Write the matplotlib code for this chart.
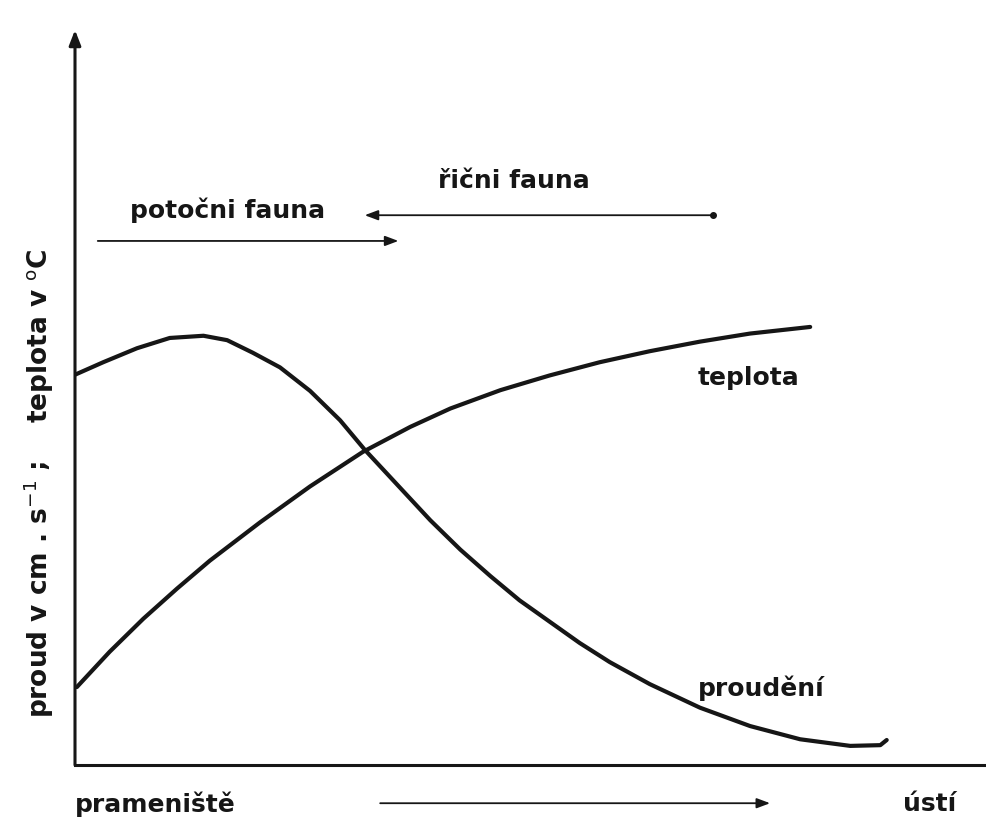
import matplotlib
matplotlib.use("Agg")
import matplotlib.pyplot as plt

# ---- data (relative units along the river, 0-100) ----
flow_x = [0.0, 3.1, 6.8, 10.4, 14.1, 16.7, 19.5, 22.5, 25.8, 29.1, 31.8, 35.7, 39.0,
          42.3, 45.6, 48.8, 52.1, 55.4, 58.7, 63.1, 68.6, 74.1, 79.6, 85.1, 88.4, 89.1]
flow_y = [53.1, 54.8, 56.7, 58.1, 58.4, 57.8, 56.1, 54.1, 50.9, 46.9, 42.9, 37.7, 33.3,
          29.3, 25.7, 22.4, 19.5, 16.6, 14.0, 11.0, 7.8, 5.3, 3.5, 2.6, 2.7, 3.4]

temp_x = [0.2, 3.8, 7.5, 11.2, 14.8, 20.3, 25.8, 31.6, 36.8, 41.2, 46.7, 52.1,
          57.6, 63.1, 68.6, 74.1, 80.7]
temp_y = [10.6, 15.4, 19.9, 24.0, 27.8, 33.0, 37.9, 42.6, 46.0, 48.5, 51.0, 53.0,
          54.8, 56.3, 57.6, 58.7, 59.6]

curve_labels = ["teplota", "proudění"]
fauna_labels = ["potočni fauna", "řični fauna"]
x_labels = ["prameniště", "ústí"]
y_label = "proud v cm . s$^{-1}$ ;    teplota v $^{\\mathrm{o}}$C"

INK = "#161616"
FONT = "DejaVu Sans"

fig = plt.figure(figsize=(9.86, 8.24), dpi=100)
fig.patch.set_facecolor("white")
ax = fig.add_axes([75 / 986, 59 / 824, 911 / 986, 735 / 824])
ax.set_xlim(0, 100)
ax.set_ylim(0, 100)
for s in ["top", "right", "left"]:
    ax.spines[s].set_visible(False)
ax.spines["bottom"].set_linewidth(2.2)
ax.spines["bottom"].set_color(INK)
ax.set_xticks([])
ax.set_yticks([])

# y axis with arrow
ax.annotate("", xy=(0, 100), xytext=(0, 0), xycoords="data",
            arrowprops=dict(arrowstyle="-|>,head_length=0.9,head_width=0.35",
                            lw=2.2, color=INK, shrinkA=0, shrinkB=0),
            annotation_clip=False)

# curves
ax.plot(temp_x, temp_y, color=INK, lw=3.0, solid_capstyle="round", solid_joinstyle="round")
ax.plot(flow_x, flow_y, color=INK, lw=3.0, solid_capstyle="round", solid_joinstyle="round")

tkw = dict(fontsize=18, fontfamily=FONT, fontweight="bold", color=INK)
ax.text(68.4, 52.6, curve_labels[0], ha="left", va="center", **tkw)
ax.text(68.4, 10.5, curve_labels[1], ha="left", va="center", **tkw)

# fauna arrows
akw = dict(arrowstyle="-|>,head_length=0.8,head_width=0.3", lw=1.3, color=INK,
           shrinkA=0, shrinkB=0)
ax.annotate("", xy=(35.5, 71.3), xytext=(2.5, 71.3), arrowprops=akw)
ax.annotate("", xy=(31.8, 74.8), xytext=(70.0, 74.8), arrowprops=akw)
ax.plot([70.0], [74.8], marker="o", ms=4, color=INK)
ax.text(16.8, 75.5, fauna_labels[0], ha="center", va="center", **tkw)
ax.text(48.2, 79.4, fauna_labels[1], ha="center", va="center", **tkw)

# bottom labels and arrow
ax.text(0.0, -5.3, x_labels[0], ha="left", va="center", clip_on=False, **tkw)
ax.text(90.9, -5.3, x_labels[1], ha="left", va="center", clip_on=False, **tkw)
ax.annotate("", xy=(76.3, -5.2), xytext=(33.5, -5.2), arrowprops=akw,
            annotation_clip=False)

# y label
ylkw = dict(tkw)
ylkw["fontsize"] = 19
ax.text(-4.0, 38.3, y_label, rotation=90, ha="center", va="center",
        clip_on=False, **ylkw)

fig.savefig("out.png", dpi=100, facecolor="white")
